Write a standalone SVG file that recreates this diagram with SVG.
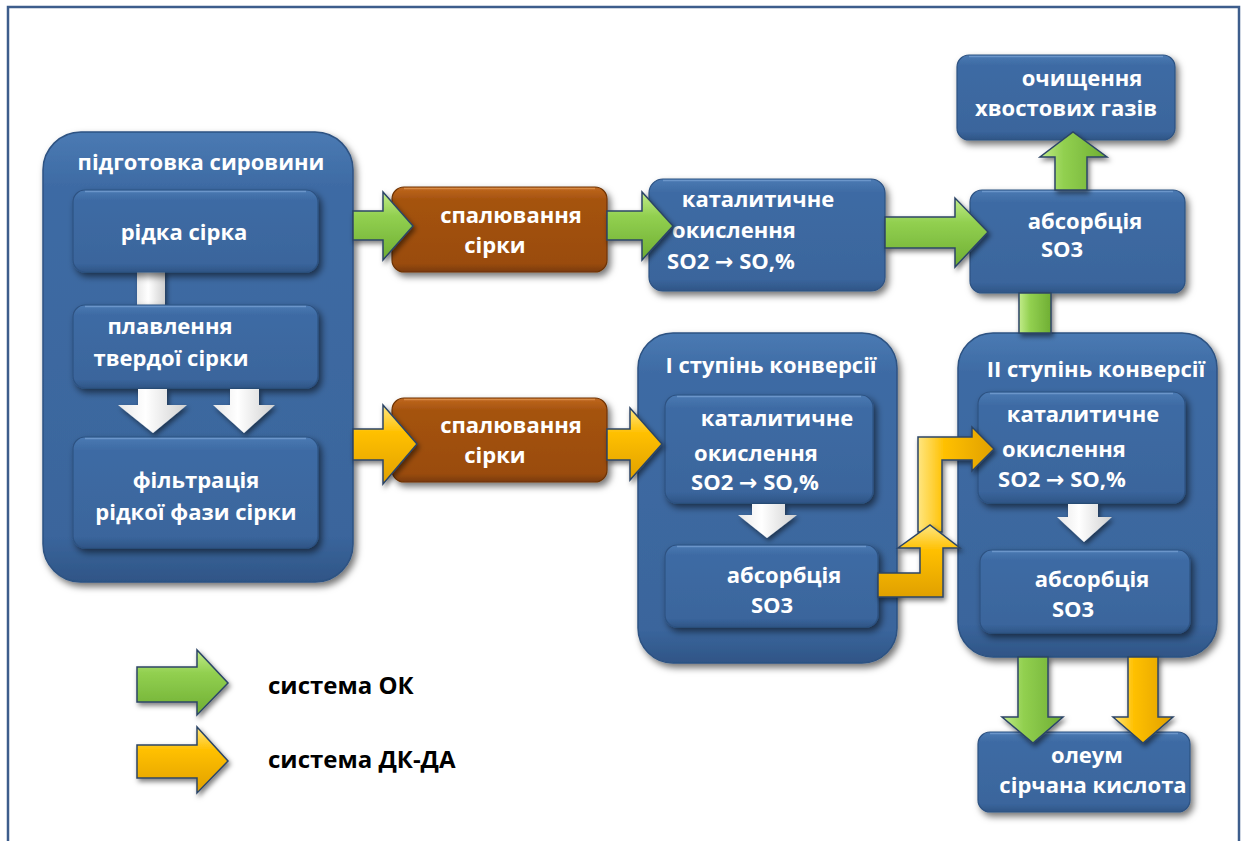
<svg xmlns="http://www.w3.org/2000/svg" width="1245" height="841" viewBox="0 0 1245 841">
<defs>
<linearGradient id="gBlue" x1="0" y1="0" x2="0" y2="1">
<stop offset="0" stop-color="#4a7ab3"/>
<stop offset="0.12" stop-color="#3e6ba4"/>
<stop offset="0.9" stop-color="#3a659c"/>
<stop offset="1" stop-color="#2f5586"/>
</linearGradient>
<linearGradient id="gBrown" x1="0" y1="0" x2="0" y2="1">
<stop offset="0" stop-color="#c0681e"/>
<stop offset="0.15" stop-color="#a5530f"/>
<stop offset="0.9" stop-color="#9a4c0d"/>
<stop offset="1" stop-color="#7a3a08"/>
</linearGradient>
<linearGradient id="gGreenH" x1="0" y1="0" x2="0" y2="1">
<stop offset="0" stop-color="#c2ec8a"/>
<stop offset="0.35" stop-color="#92d050"/>
<stop offset="1" stop-color="#6fae33"/>
</linearGradient>
<linearGradient id="gGreenV" x1="0" y1="0" x2="1" y2="0">
<stop offset="0" stop-color="#c2ec8a"/>
<stop offset="0.35" stop-color="#92d050"/>
<stop offset="1" stop-color="#6fae33"/>
</linearGradient>
<linearGradient id="gYellowH" x1="0" y1="0" x2="0" y2="1">
<stop offset="0" stop-color="#ffe680"/>
<stop offset="0.35" stop-color="#ffc000"/>
<stop offset="1" stop-color="#e0a000"/>
</linearGradient>
<linearGradient id="gYellowV" x1="0" y1="0" x2="1" y2="0">
<stop offset="0" stop-color="#ffe680"/>
<stop offset="0.35" stop-color="#ffc000"/>
<stop offset="1" stop-color="#e0a000"/>
</linearGradient>
<linearGradient id="gWhite" x1="0" y1="0" x2="1" y2="0">
<stop offset="0" stop-color="#e8e8e8"/>
<stop offset="0.4" stop-color="#ffffff"/>
<stop offset="1" stop-color="#d0d0d0"/>
</linearGradient>
<filter id="sh" x="-20%" y="-20%" width="140%" height="140%">
<feDropShadow dx="3" dy="4" stdDeviation="3.5" flood-color="#000" flood-opacity="0.55"/>
</filter>
<filter id="shs" x="-30%" y="-30%" width="160%" height="160%">
<feDropShadow dx="2" dy="3" stdDeviation="2.5" flood-color="#000" flood-opacity="0.5"/>
</filter>
</defs>
<style>
.cont{fill:url(#gBlue);stroke:#2d5282;stroke-width:1.5;filter:url(#sh)}
.box{fill:url(#gBlue);stroke:#2d5282;stroke-width:1.2;filter:url(#sh)}
.brn{fill:url(#gBrown);stroke:#6e3306;stroke-width:1.2;filter:url(#sh)}
.hl{fill:none;stroke:#7aa3d4;stroke-width:1.5;stroke-opacity:0.7}
.hlb{fill:none;stroke:#e39a55;stroke-width:1.5;stroke-opacity:0.7}
.gh{fill:url(#gGreenH);stroke:#2c4566;stroke-width:1.5;stroke-linejoin:miter;filter:url(#shs)}
.gv{fill:url(#gGreenV);stroke:#2c4566;stroke-width:1.5;stroke-linejoin:miter;filter:url(#shs)}
.yh{fill:url(#gYellowH);stroke:#2c4566;stroke-width:1.5;stroke-linejoin:miter;filter:url(#shs)}
.yv{fill:url(#gYellowV);stroke:#2c4566;stroke-width:1.5;stroke-linejoin:miter;filter:url(#shs)}
.wa{fill:url(#gWhite);filter:url(#shs)}
.t{font-family:"Open Sans","Noto Sans","DejaVu Sans",sans-serif;font-weight:bold;font-size:22px;fill:#ffffff;text-anchor:middle}
.lg{font-family:"Open Sans","Noto Sans","DejaVu Sans",sans-serif;font-weight:bold;font-size:24px;fill:#000000}
</style>
<rect x="0" y="0" width="1245" height="841" fill="#ffffff"/>
<rect x="8" y="7" width="1231" height="845" fill="#ffffff" stroke="#3d5d8c" stroke-width="2.5"/>

<g id="node-pidgotovka">
<rect class="cont" x="43" y="132" width="310" height="450" rx="38"/>
<text class="t" x="201" y="170">підготовка сировини</text>
</g>
<rect class="wa" x="137" y="270" width="28" height="37"/>
<g id="node-ridka">
<rect class="box" x="73" y="190" width="245" height="82" rx="12"/>
<path class="hl" d="M85,191.5 H306"/>
<text class="t" x="184" y="240">рідка сірка</text>
</g>
<g id="node-plavlennia">
<rect class="box" x="73" y="305" width="245" height="83" rx="12"/>
<path class="hl" d="M85,306.5 H306"/>
<text class="t" x="170" y="334">плавлення</text>
<text class="t" x="171" y="366">твердої сірки</text>
</g>
<g id="node-filtratsiia">
<rect class="box" x="73" y="437" width="245" height="111" rx="12"/>
<path class="hl" d="M85,438.5 H306"/>
<text class="t" x="196" y="488">фільтрація</text>
<text class="t" x="196" y="520">рідкої фази сірки</text>
</g>

<g id="node-spaliuvannia-1">
<rect class="brn" x="392" y="187" width="215" height="85" rx="12"/>
<path class="hlb" d="M404,188.5 H595"/>
<text class="t" x="511" y="223">спалювання</text>
<text class="t" x="495" y="253">сірки</text>
</g>
<g id="node-spaliuvannia-2">
<rect class="brn" x="392" y="398" width="215" height="84" rx="12"/>
<path class="hlb" d="M404,399.5 H595"/>
<text class="t" x="511" y="433">спалювання</text>
<text class="t" x="495" y="463">сірки</text>
</g>

<g id="node-kataliz-top">
<rect class="box" x="649" y="179" width="236" height="112" rx="14"/>
<path class="hl" d="M663,180.5 H871"/>
<text class="t" x="758" y="207">каталитичне</text>
<text class="t" x="734" y="238">окислення</text>
<text class="t" x="731" y="269">SO2 → SO,%</text>
</g>
<g id="node-absorb-top">
<rect class="box" x="970" y="190" width="215" height="103" rx="12"/>
<path class="hl" d="M982,191.5 H1173"/>
<text class="t" x="1085" y="229">абсорбція</text>
<text class="t" x="1062" y="257">SO3</text>
</g>
<g id="node-ochyshchennia">
<rect class="box" x="957" y="55" width="218" height="85" rx="12"/>
<path class="hl" d="M969,56.5 H1163"/>
<text class="t" x="1082" y="86">очищення</text>
<text class="t" x="1066" y="116">хвостових газів</text>
</g>

<g id="node-stage1">
<rect class="cont" x="638" y="333" width="259" height="330" rx="35"/>
<text class="t" x="771" y="373">I ступінь конверсії</text>
</g>
<g id="node-stage1-kataliz">
<rect class="box" x="665" y="395" width="208" height="108" rx="12"/>
<path class="hl" d="M677,396.5 H861"/>
<text class="t" x="777" y="426">каталитичне</text>
<text class="t" x="756" y="461">окислення</text>
<text class="t" x="755" y="490">SO2 → SO,%</text>
</g>
<g id="node-stage1-absorb">
<rect class="box" x="665" y="545" width="213" height="82" rx="12"/>
<path class="hl" d="M677,546.5 H866"/>
<text class="t" x="784" y="583">абсорбція</text>
<text class="t" x="772" y="613">SO3</text>
</g>

<g id="node-stage2">
<rect class="cont" x="958" y="333" width="259" height="324" rx="35"/>
<text class="t" x="1096" y="377">II ступінь конверсії</text>
</g>
<g id="node-stage2-kataliz">
<rect class="box" x="978" y="392" width="207" height="111" rx="12"/>
<path class="hl" d="M990,393.5 H1173"/>
<text class="t" x="1083" y="422">каталитичне</text>
<text class="t" x="1064" y="457">окислення</text>
<text class="t" x="1062" y="487">SO2 → SO,%</text>
</g>
<g id="node-stage2-absorb">
<rect class="box" x="980" y="550" width="210" height="83" rx="12"/>
<path class="hl" d="M992,551.5 H1178"/>
<text class="t" x="1092" y="587">абсорбція</text>
<text class="t" x="1073" y="617">SO3</text>
</g>
<g id="node-oleum">
<rect class="box" x="978" y="732" width="212" height="80" rx="12"/>
<path class="hl" d="M990,733.5 H1178"/>
<text class="t" x="1087" y="763">олеум</text>
<text class="t" x="1093" y="793">сірчана кислота</text>
</g>

<g id="connectors">
<!-- white inner arrows -->
<polygon class="wa" points="138,389 167,389 167,405 187,405 153,433 118,405 138,405"/>
<polygon class="wa" points="230,389 259,389 259,405 275,405 244,433 213,405 230,405"/>
<polygon class="wa" points="752,504 785,504 785,515 797,515 767,538 738,515 752,515"/>
<polygon class="wa" points="1068,504 1098,504 1098,517 1112,517 1084,542 1057,517 1068,517"/>
<!-- green (OK system) -->
<polygon class="gh" points="353,211 383,211 383,192 413,226 383,260 383,240 353,240"/>
<polygon class="gh" points="607,211 642,211 642,192 673,226 642,260 642,240 607,240"/>
<polygon class="gh" points="885,217 955,217 955,198 988,232 955,267 955,248 885,248"/>
<polygon class="gv" points="1055,190 1055,157 1040,157 1073,132 1107,157 1087,157 1087,190"/>
<rect class="gv" x="1019" y="293" width="32" height="40"/>
<polygon class="gv" points="1018,657 1048,657 1048,717 1063,717 1033,743 1002,717 1018,717"/>
<!-- yellow (DK-DA system) -->
<polygon class="yh" points="353,429 383,429 383,405 417,444 383,484 383,460 353,460"/>
<polygon class="yh" points="607,429 630,429 630,408 662,444 630,480 630,460 607,460"/>
<polygon class="yv" points="918,532 918,437 972,437 972,427 994,449 972,471 972,460 942,460 942,532"/>
<polygon class="yh" points="878,573 920,573 920,548 898,548 930,525 960,548 943,548 943,597 878,597"/>
<polygon class="yv" points="1128,657 1158,657 1158,717 1173,717 1143,743 1113,717 1128,717"/>
</g>

<g id="legend">
<polygon class="gh" points="137,667 197,667 197,650 228,683 197,715 197,702 137,702"/>
<text class="lg" x="268" y="694">система ОК</text>
<polygon class="yh" points="137,745 197,745 197,727 228,761 197,793 197,778 137,778"/>
<text class="lg" x="268" y="768">система ДК-ДА</text>
</g>
</svg>
